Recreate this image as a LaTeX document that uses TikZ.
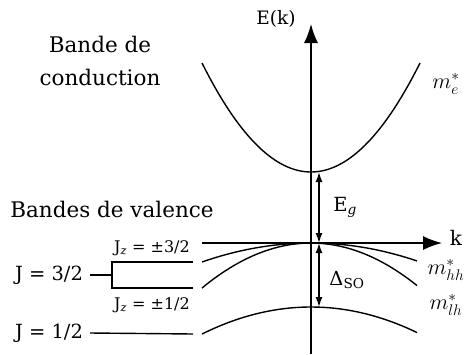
\documentclass[tikz,border=0pt]{standalone}
\usepackage{fix-cm}
\usepackage{fontspec}
\setmainfont{DejaVu Serif}
\usetikzlibrary{positioning,arrows.meta}

\begin{document}
\begin{tikzpicture}[x=1pt, y=-1pt,
  every node/.style={font=\fontsize{19.5}{23}\selectfont, inner sep=0pt},
  band/.style={line width=1.4pt},
  axis/.style={line width=1.4pt, -{Latex[length=19pt,width=14pt]}},
  gap/.style={line width=1.4pt, {Latex[length=10pt,width=7pt]}-{Latex[length=10pt,width=7pt]}},
  title/.style={font=\fontsize{21.5}{33}\selectfont},
  mass/.style={font=\fontsize{22}{26}\selectfont},
  small/.style={font=\fontsize{16}{19}\selectfont}]
  \useasboundingbox (0,0) rectangle (468,354);
  \coordinate (kstart) at (202,243);
  \coordinate (kend) at (442,243);
  \coordinate (Ebot) at (311,354);
  \coordinate (Etop) at (311,24);
  \coordinate (cmin) at (319,172);
  \coordinate (vtop) at (319,243);
  \coordinate (sotop) at (319,307);
  \draw[axis] (Ebot) -- (Etop);
  \draw[axis] (kstart) -- (kend);
  \draw[band] plot[domain=-109:109, samples=60] ({311+\x},{172-\x*\x/109});
  \draw[band] plot[domain=-109:106, samples=40] ({311+\x},{243+19*(\x/109)^2});
  \draw[band] plot[domain=-109:106, samples=40] ({311+\x},{243+45*(\x/109)^2});
  \draw[band] plot[domain=-109:106, samples=40] ({311+\x},{307+27*(\x/109)^2});
  \draw[gap] (cmin) -- (vtop);
  \draw[gap] (vtop) -- (sotop);
  \node[font=\fontsize{18.5}{22}\selectfont] (Ek) at (276,19) {E(k)};
  \node[font=\fontsize{20}{24}\selectfont] (klab) at (456,238) {k};
  \node[title, align=center] (cond) at (100,61) {Bande de\\conduction};
  \node[mass] (me) at (446,84) {$m_e^*$};
  \node (Eg) at (345,207) {E\textsubscript{\itshape g}};
  \node (dso) at (347,280) {Δ\textsubscript{SO}};
  \node[mass] (mhh) at (446,270) {$m_{hh}^*$};
  \node[mass] (mlh) at (446,305) {$m_{lh}^*$};
  \node[title] (valence) at (112,209) {Bandes de valence};
  \node[small] (jz3) at (152,248) {J\textsubscript{\itshape z} = ±3/2};
  \node[small] (jz1) at (152,305) {J\textsubscript{\itshape z} = ±1/2};
  \node (j3) at (49,275) {J = 3/2};
  \node (j1) at (49,333) {J = 1/2};
  \coordinate (hhend) at (193,262);
  \coordinate (lhend) at (193,288);
  \coordinate (soend) at (193,334);
  \coordinate (brk) at (112,275);
  \draw[band] ([xshift=7pt]j3.east) -- (brk);
  \draw[band] (hhend) -| (brk) |- (lhend);
  \draw[band] ([xshift=7pt]j1.east) -- (soend);
\end{tikzpicture}
\end{document}
